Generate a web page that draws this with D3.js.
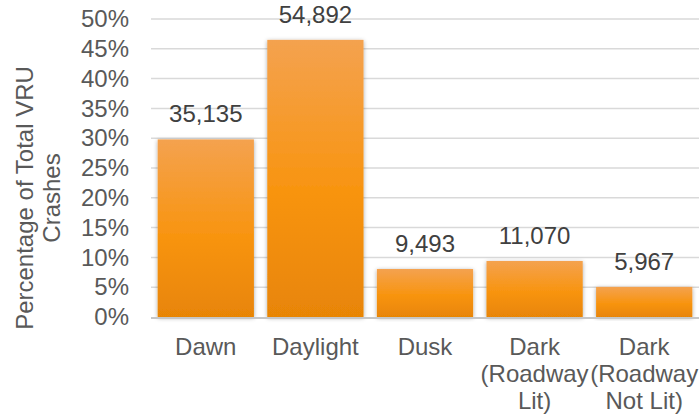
<!DOCTYPE html>
<html><head><meta charset="utf-8">
<script src="https://cdn.jsdelivr.net/npm/d3@7/dist/d3.min.js"></script>
<style>body{margin:0;background:#fff}svg{display:block}</style>
</head><body>
<svg id="c" width="699" height="417"></svg>
<script>
const categories = [["Dawn"], ["Daylight"], ["Dusk"], ["Dark", "(Roadway", "Lit)"], ["Dark", "(Roadway", "Not Lit)"]];
const percentages = [29.8, 46.5, 8.05, 9.4, 5.05];
const counts = ["35,135", "54,892", "9,493", "11,070", "5,967"];
const yTicks = [0, 5, 10, 15, 20, 25, 30, 35, 40, 45, 50];
const yTitle = ["Percentage of Total VRU", "Crashes"];

(function () {
const svg = d3.select("#c");
const font = "'Liberation Sans', Arial, sans-serif";
const pL = 151, pR = 699, pT = 19, pB = 317;

const x = d3.scaleBand().domain(d3.range(categories.length)).range([pL, pR])
  .paddingInner(0.122).paddingOuter(0.061);
const y = d3.scaleLinear().domain([0, 50]).range([pB, pT]);

const defs = svg.append("defs");
const g = defs.append("linearGradient").attr("id", "bg").attr("x1", 0).attr("y1", 0).attr("x2", 0).attr("y2", 1);
g.append("stop").attr("offset", "0%").attr("stop-color", "#f4a24f");
g.append("stop").attr("offset", "55%").attr("stop-color", "#f8940f");
g.append("stop").attr("offset", "100%").attr("stop-color", "#e88506");
const f = defs.append("filter").attr("id", "sh").attr("x", "-10%").attr("y", "-10%").attr("width", "120%").attr("height", "120%");
f.append("feDropShadow").attr("dx", 0).attr("dy", 1).attr("stdDeviation", 2).attr("flood-color", "#000").attr("flood-opacity", 0.35);

// gridlines
svg.append("g").selectAll("line").data(yTicks.filter(d => d > 0)).join("line")
  .attr("x1", pL).attr("x2", pR).attr("y1", d => y(d)).attr("y2", d => y(d))
  .attr("stroke", "#d9d9d9").attr("stroke-width", 1.5);

// y axis labels via d3 axis
const ya = svg.append("g").attr("transform", `translate(${pL - 22},0)`)
  .call(d3.axisLeft(y).tickValues(yTicks).tickFormat(d => d + "%").tickSize(0).tickPadding(0));
ya.select(".domain").remove();
ya.selectAll("text").attr("font-family", font).attr("font-size", 24).attr("fill", "#595959");

// bars
svg.append("g").selectAll("rect").data(percentages).join("rect")
  .attr("x", (d, i) => x(i)).attr("width", x.bandwidth())
  .attr("y", d => y(d)).attr("height", d => y(0) - y(d))
  .attr("fill", "url(#bg)").attr("filter", "url(#sh)");

// axis line
svg.append("line").attr("x1", pL).attr("x2", pR).attr("y1", pB + 1).attr("y2", pB + 1)
  .attr("stroke", "#c6c6c6").attr("stroke-width", 2);

// value labels
svg.append("g").selectAll("text").data(percentages).join("text")
  .attr("x", (d, i) => x(i) + x.bandwidth() / 2).attr("y", d => y(d) - 17)
  .attr("text-anchor", "middle").attr("font-family", font).attr("font-size", 24).attr("fill", "#404040")
  .text((d, i) => counts[i]);

// x labels
const xl = svg.append("g").selectAll("text").data(categories).join("text")
  .attr("text-anchor", "middle").attr("font-family", font).attr("font-size", 24).attr("fill", "#595959");
xl.each(function(lines, i) {
  d3.select(this).selectAll("tspan").data(lines).join("tspan")
    .attr("x", x(i) + x.bandwidth() / 2).attr("y", (d, j) => 355 + j * 27).text(d => d);
});

// y title
svg.append("g").selectAll("text").data(yTitle).join("text")
  .attr("transform", (d, i) => `translate(${33 + i * 27},198) rotate(-90)`)
  .attr("text-anchor", "middle").attr("font-family", font).attr("font-size", 24).attr("fill", "#595959")
  .text(d => d);
})();
</script>
</body></html>
